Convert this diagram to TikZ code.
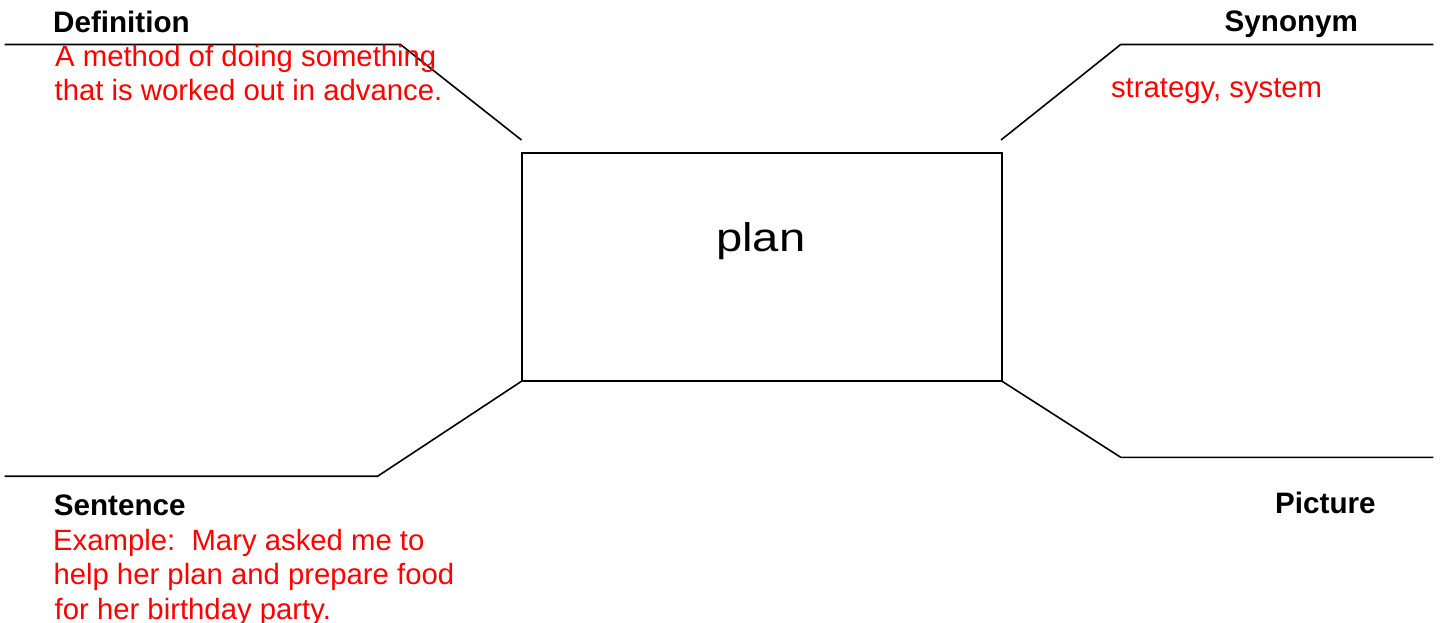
\documentclass[tikz,border=0pt]{standalone}
\usepackage{fontspec}
\usepackage{graphicx}
\setmainfont{Liberation Sans}
\definecolor{txtred}{RGB}{255,0,0}
\begin{document}
\begin{tikzpicture}[x=1pt,y=-1pt,
  rule/.style={line width=1.6pt,black,line join=miter},
  head/.style={inner sep=0pt,anchor=base west,font=\fontsize{29.6}{34}\selectfont\bfseries},
  redtxt/.style={inner sep=0pt,anchor=base west,text=txtred,font=\fontsize{29.3}{34}\selectfont}]
\useasboundingbox (0,0) rectangle (1440,623);
\fill[white] (0,0) rectangle (1440,623);
% central box
\node[rule,draw,minimum width=480pt,minimum height=228pt,inner sep=0pt,anchor=north west] (box) at (521,152) {};
\node[inner sep=0pt,anchor=base] (word) at (760.7,251.7) {\scalebox{1.18}[1]{\fontsize{40}{48}\selectfont plan}};
% connector ends
\coordinate (tlA) at (521.5,140);
\coordinate (tlB) at (400.5,44.5);
\coordinate (tlC) at (4.5,44.5);
\coordinate (trA) at (1001,140);
\coordinate (trB) at (1120.7,44.5);
\coordinate (trC) at (1433.3,44.5);
\coordinate (blB) at (377.7,476.2);
\coordinate (blC) at (4.5,476.2);
\coordinate (brB) at (1120.7,457.3);
\coordinate (brC) at (1433.3,457.3);
\draw[rule] (tlA) -- (tlB) -- (tlC);
\draw[rule] (trA) -- (trB) -- (trC);
\draw[rule] (box.south west) -- (blB) -- (blC);
\draw[rule] (box.south east) -- (brB) -- (brC);
% labels
\node[head] (def) at (53,32.5) {Definition};
\node[redtxt] (def1) at (55,67) {A method of doing something};
\node[redtxt] (def2) at (54.5,100.3) {that is worked out in advance.};
\node[head] (syn) at (1224.5,31.8) {Synonym};
\node[redtxt] (syn1) at (1110.8,97.7) {strategy, system};
\node[head] (sen) at (53.7,515) {Sentence};
\node[redtxt] (sen1) at (53,550) {Example:\ \ Mary asked me to};
\node[redtxt] (sen2) at (53.3,584.6) {help her plan and prepare food};
\node[redtxt] (sen3) at (54.5,619) {for her birthday party.};
\node[head] (pic) at (1275,513.3) {Picture};
\end{tikzpicture}
\end{document}
